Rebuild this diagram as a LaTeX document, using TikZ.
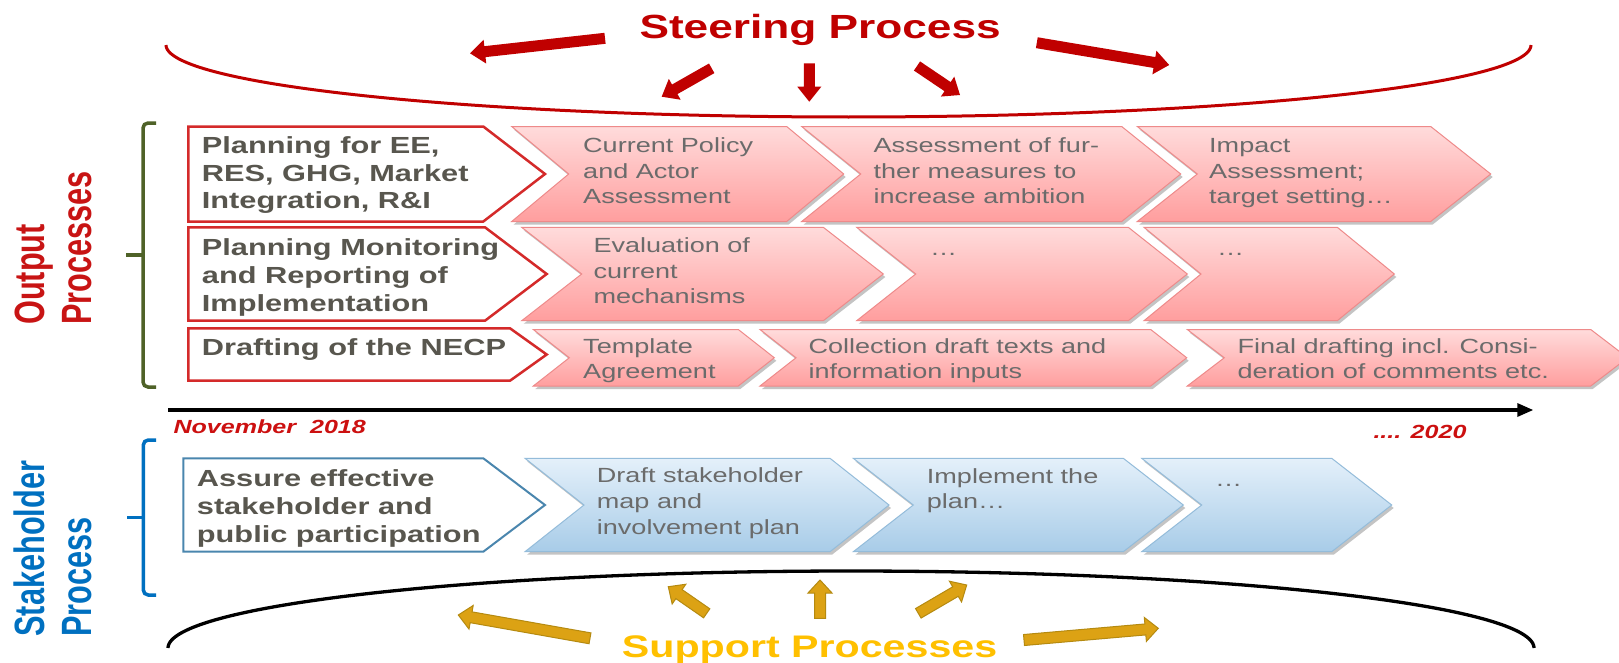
\documentclass[tikz,border=0pt]{standalone}
\usepackage{fontspec}
\newfontfamily\wf{Liberation Sans}[FakeStretch=1.32]
\newfontfamily\nf{Liberation Sans}
\usetikzlibrary{calc,arrows.meta}
\definecolor{stred}{HTML}{C00000}
\definecolor{outred}{HTML}{C81414}
\definecolor{datered}{HTML}{CC1010}
\definecolor{boxred}{HTML}{D42A2A}
\definecolor{boxblue}{HTML}{4A86AE}
\definecolor{stkblue}{HTML}{0070C0}
\definecolor{olivebr}{HTML}{4F6228}
\definecolor{suppgold}{HTML}{FFC000}
\definecolor{arrgold}{HTML}{DCA214}
\definecolor{arrgoldd}{HTML}{B58A10}
\definecolor{wtxt}{HTML}{58564E}
\definecolor{ctxt}{HTML}{6B6B6B}
\definecolor{shadowc}{HTML}{C4C4C4}
\tikzset{
  redchev/.style={top color=red!14!white, bottom color={rgb,255:red,255;green,158;blue,158}, draw={rgb,255:red,238;green,138;blue,138}, line width=1},
  bluechev/.style={top color={rgb,255:red,228;green,240;blue,250}, bottom color={rgb,255:red,168;green,204;blue,232}, draw={rgb,255:red,148;green,188;blue,218}, line width=1},
  wboxred/.style={fill=white, draw=boxred, line width=2.5},
  wboxblue/.style={fill=white, draw=boxblue, line width=2},
  wbt/.style={font=\wf\bfseries\fontsize{23.3}{28}\selectfont, text=wtxt, anchor=base west, inner sep=0},
  ct/.style={font=\wf\fontsize{20.5}{25}\selectfont, text=ctxt, anchor=base west, inner sep=0},
  redarrow/.style={fill=stred},
  goldarrow/.style={fill=arrgold, draw=arrgoldd, line width=1},
  brack/.style={line width=3.5, rounded corners=5},
  sidelabel/.style={font=\nf\bfseries\fontsize{30.7}{36}\selectfont, rotate=90, transform shape, anchor=base west, inner sep=0},
  datetxt/.style={font=\wf\bfseries\itshape\fontsize{19}{22}\selectfont, text=datered, anchor=base west, inner sep=0}
}
% chevron: style, x0, xe, d, yt, yb, ym
\newcommand\chev[7]{%
  \fill[shadowc] ({#2+2},{#5+3}) -- ({#3+2},{#5+3}) -- ({#3+#4+2},{#7+3}) -- ({#3+2},{#6+3}) -- ({#2+2},{#6+3}) -- ({#2+#4+2},{#7+3}) -- cycle;
  \path[#1] (#2,#5) -- (#3,#5) -- ({#3+#4},#7) -- (#3,#6) -- (#2,#6) -- ({#2+#4},#7) -- cycle;
}
% white pentagon box: style, x0, xe, xtip, yt, yb, ym
\newcommand\wbox[7]{%
  \path[#1] (#2,#5) -- (#3,#5) -- (#4,#7) -- (#3,#6) -- (#2,#6) -- cycle;
}
% fat arrow: style, tail, tip, shaft half, head half, head length
\newcommand\fatarrow[6]{%
  \coordinate (#3n) at ($(#3)!#6!(#2)$);
  \path[#1] ($(#2)!#4!90:(#3)$) -- ($(#3n)!#4!90:(#3)$) -- ($(#3n)!#5!90:(#3)$) -- (#3) -- ($(#3n)!#5!-90:(#3)$) -- ($(#3n)!#4!-90:(#3)$) -- ($(#2)!#4!-90:(#3)$) -- cycle;
}
\begin{document}
\begin{tikzpicture}[x=1pt,y=-1pt]
\useasboundingbox (0,0) rectangle (1619,662);
\clip (0,0) rectangle (1619,662);
\fill[white] (0,0) rectangle (1619,662);

% ---- arcs ----
\draw[stred, line width=3] plot[domain=180:360, samples=150, smooth] ({848.5+682.5*cos(\x)},{45-72*sin(\x)});
\draw[black, line width=3.3] plot[domain=0:180, samples=150, smooth] ({851+683*cos(\x)},{648-77*sin(\x)});

% ---- titles ----
\node[font=\wf\bfseries\fontsize{33.5}{40}\selectfont, text=stred, anchor=base west, inner sep=0] (steer) at (639.3,38.5) {Steering Process};
\node[font=\wf\bfseries\fontsize{31.2}{38}\selectfont, text=suppgold, anchor=base west, inner sep=0] (supp) at (621.7,657) {Support Processes};

% ---- steering arrows ----
\coordinate (ra1s) at (605,38.3);   \coordinate (ra1t) at (470,53.3);
\coordinate (ra2s) at (711.7,68.3); \coordinate (ra2t) at (661.7,96.7);
\coordinate (ra3s) at (809.3,63.3); \coordinate (ra3t) at (809.3,101.7);
\coordinate (ra4s) at (917,66);     \coordinate (ra4t) at (960,95);
\coordinate (ra5s) at (1036.8,42.7);\coordinate (ra5t) at (1169.2,65);
\fatarrow{redarrow}{ra1s}{ra1t}{5.5pt}{12pt}{15pt}
\fatarrow{redarrow}{ra2s}{ra2t}{5.5pt}{12pt}{15pt}
\fatarrow{redarrow}{ra3s}{ra3t}{5.5pt}{12pt}{15pt}
\fatarrow{redarrow}{ra4s}{ra4t}{5.5pt}{12pt}{15pt}
\fatarrow{redarrow}{ra5s}{ra5t}{5.5pt}{12pt}{15pt}

% ---- support arrows ----
\coordinate (ga1s) at (590,638.3);   \coordinate (ga1t) at (458.3,615);
\coordinate (ga2s) at (706.7,613.3); \coordinate (ga2t) at (668.3,586.7);
\coordinate (ga3s) at (820,618.3);   \coordinate (ga3t) at (820,580);
\coordinate (ga4s) at (918.3,613.3); \coordinate (ga4t) at (966.7,585);
\coordinate (ga5s) at (1024,640);    \coordinate (ga5t) at (1158.3,628.3);
\fatarrow{goldarrow}{ga1s}{ga1t}{5.5pt}{12pt}{13pt}
\fatarrow{goldarrow}{ga2s}{ga2t}{5.5pt}{12pt}{13pt}
\fatarrow{goldarrow}{ga3s}{ga3t}{5.5pt}{12pt}{13pt}
\fatarrow{goldarrow}{ga4s}{ga4t}{5.5pt}{12pt}{13pt}
\fatarrow{goldarrow}{ga5s}{ga5t}{5.5pt}{12pt}{13pt}

% ---- brackets ----
\draw[brack, olivebr] (156,123) -- (143,123) -- (143,387) -- (156,387);
\draw[line width=3.5, olivebr] (143,255) -- (126,255);
\draw[brack, stkblue] (156,440) -- (143.3,440) -- (143.3,595) -- (156,595);
\draw[line width=3.5, stkblue] (143.3,517.5) -- (126.7,517.5);

% ---- side labels ----
\begin{scope}[shift={(44,325)}, xscale=1.38]
  \node[sidelabel, text=outred] (outA) at (0,0) {Output};
\end{scope}
\begin{scope}[shift={(91,325)}, xscale=1.38]
  \node[sidelabel, text=outred] (outB) at (0,0) {Processes};
\end{scope}
\begin{scope}[shift={(44,636.7)}, xscale=1.38]
  \node[sidelabel, text=stkblue] (stkA) at (0,0) {Stakeholder};
\end{scope}
\begin{scope}[shift={(91,636.7)}, xscale=1.38]
  \node[sidelabel, text=stkblue] (stkB) at (0,0) {Process};
\end{scope}

% ---- timeline ----
\coordinate (tls) at (168.3,410);
\coordinate (tle) at (1533.3,410);
\draw[line width=3.2, -{Triangle[length=16pt,width=13pt]}] (tls) -- (tle);
\node[datetxt] (nov) at (173.3,433.3) {November~ 2018};
\node[datetxt] (y2020) at (1373.3,438.3) {.... 2020};

% ---- white boxes ----
\wbox{wboxred}{188.3}{483.3}{545}{126.5}{221.5}{174}
\wbox{wboxred}{188.3}{485}{546.7}{227.3}{320.7}{274}
\wbox{wboxred}{188.3}{510}{546.7}{328.3}{380.7}{354.5}
\wbox{wboxblue}{183.3}{483.3}{545}{458.3}{551.7}{505}

% ---- chevrons ----
\chev{redchev}{511.7}{786.7}{57}{126.5}{221.5}{174}
\chev{redchev}{801.7}{1121.7}{59}{126.5}{221.5}{174}
\chev{redchev}{1137.3}{1430.7}{60}{126.5}{221.5}{174}
\chev{redchev}{521.7}{823.3}{60}{227.3}{320.7}{274}
\chev{redchev}{856.7}{1128.3}{59}{227.3}{320.7}{274}
\chev{redchev}{1144}{1337.3}{57}{227.3}{320.7}{274}
\chev{redchev}{533.3}{738.3}{36}{329.5}{386}{357.75}
\chev{redchev}{760}{1150.7}{36}{329.5}{386}{357.75}
\chev{redchev}{1187.3}{1590.7}{37}{329.5}{386}{357.75}
\chev{bluechev}{525}{830}{59}{458.3}{551.7}{505}
\chev{bluechev}{853.3}{1123.3}{60}{458.3}{551.7}{505}
\chev{bluechev}{1141.7}{1331.7}{60}{458.3}{551.7}{505}

% ---- white box texts ----
\node[wbt] (w1a) at (201.7,153.3) {Planning for EE,};
\node[wbt] (w1b) at (201.7,181.6) {RES, GHG, Market};
\node[wbt] (w1c) at (201.7,208.3) {Integration, R\&I};
\node[wbt] (w2a) at (201.7,255) {Planning Monitoring};
\node[wbt] (w2b) at (201.7,283.3) {and Reporting of};
\node[wbt] (w2c) at (201.7,311.6) {Implementation};
\node[wbt] (w3a) at (201.7,355) {Drafting of the NECP};
\node[wbt] (s0a) at (196.7,486.6) {Assure effective};
\node[wbt] (s0b) at (196.7,514.3) {stakeholder and};
\node[wbt] (s0c) at (196.7,542.3) {public participation};

% ---- chevron texts ----
\node[ct] (c11a) at (583,152.5) {Current Policy};
\node[ct] (c11b) at (583,178) {and Actor};
\node[ct] (c11c) at (583,203.5) {Assessment};
\node[ct] (c12a) at (873.3,152.5) {Assessment of fur-};
\node[ct] (c12b) at (873.3,178) {ther measures to};
\node[ct] (c12c) at (873.3,203.5) {increase ambition};
\node[ct] (c13a) at (1209,152.5) {Impact};
\node[ct] (c13b) at (1209,178) {Assessment;};
\node[ct] (c13c) at (1209,203.5) {target setting…};
\node[ct] (c21a) at (593.3,252.5) {Evaluation of};
\node[ct] (c21b) at (593.3,278) {current};
\node[ct] (c21c) at (593.3,303) {mechanisms};
\node[ct] (c22a) at (930,255) {…};
\node[ct] (c23a) at (1217,255) {…};
\node[ct] (c31a) at (583,353) {Template};
\node[ct] (c31b) at (583,378) {Agreement};
\node[ct] (c32a) at (808.3,353) {Collection draft texts and};
\node[ct] (c32b) at (808.3,378) {information inputs};
\node[ct] (c33a) at (1237.3,353) {Final drafting incl. Consi-};
\node[ct] (c33b) at (1237.3,378) {deration of comments etc.};
\node[ct] (b1a) at (596.7,482.5) {Draft stakeholder};
\node[ct] (b1b) at (596.7,508) {map and};
\node[ct] (b1c) at (596.7,534) {involvement plan};
\node[ct] (b2a) at (926.7,483.5) {Implement the};
\node[ct] (b2b) at (926.7,508.5) {plan…};
\node[ct] (b3a) at (1215,486) {…};
\end{tikzpicture}
\end{document}
